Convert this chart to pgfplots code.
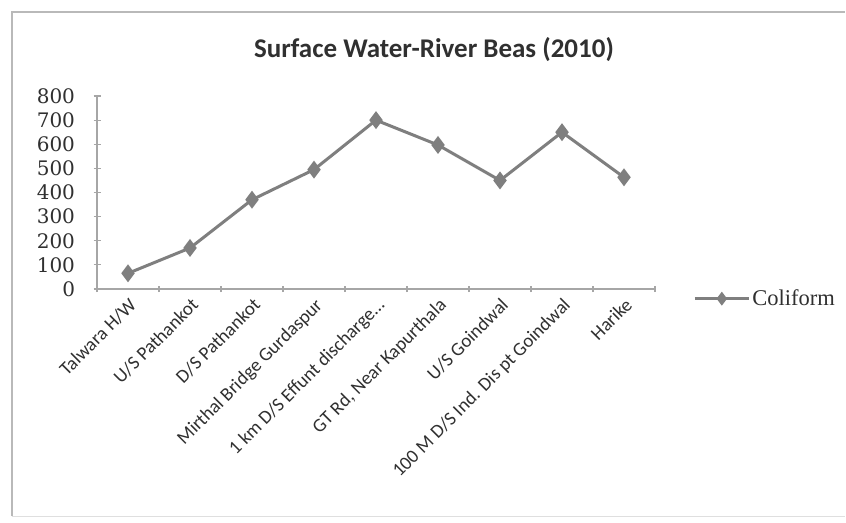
\documentclass[border=0pt]{standalone}
\usepackage{fontspec}
\setmainfont{Liberation Serif}
\newfontfamily\calibri{Carlito}
\newfontfamily\tickfont{DejaVu Serif}
\usepackage{pgfplots}
\pgfplotsset{compat=1.18}
\definecolor{linegray}{HTML}{7F7F7F}
\definecolor{axgray}{HTML}{A6A6A6}
\definecolor{txt}{HTML}{303030}
\begin{document}
\begin{tikzpicture}[x=1bp,y=1bp]
\path[use as bounding box] (0,0) rectangle (846,-523);
\fill[white] (0,0) rectangle (846,-523);
\draw[gray!55, line width=1.5bp] (12,-516) -- (12,-12) -- (845,-12);
\draw[gray!25, line width=1bp] (12,-516) -- (845,-516);
\node[font={\calibri\bfseries\fontsize{27bp}{30bp}\selectfont}, text=txt] at (434,-50) {Surface Water-River Beas (2010)};
\begin{axis}[
  at={(97bp,-289bp)}, anchor=south west,
  scale only axis, width=558bp, height=193bp,
  xmin=-0.5, xmax=8.5, ymin=0, ymax=800,
  ytick={0,100,200,300,400,500,600,700,800},
  xtick={0,1,2,3,4,5,6,7,8},
  xticklabels={Talwara H/W, U/S Pathankot, D/S Pathankot, Mirthal Bridge Gurdaspur, {1 km D/S Effunt discharge\ldots}, {GT Rd, Near Kapurthala}, U/S Goindwal, {100 M D/S Ind. Dis pt Goindwal}, Harike},
  minor xtick={-0.5,0.5,1.5,2.5,3.5,4.5,5.5,6.5,7.5,8.5},
  major x tick style={draw=none},
  minor tick length=6bp,
  major tick length=7bp,
  tick align=outside,
  tick style={axgray, line width=1.2bp},
  axis x line=bottom, axis y line=left,
  axis line style={-, axgray, line width=1.5bp},
  /pgf/number format/assume math mode=true,
  yticklabel style={font=\tickfont\fontsize{20bp}{22bp}\selectfont, text=txt, xshift=-15bp},
  xticklabel style={font=\calibri\fontsize{19bp}{21bp}\selectfont, text=txt, rotate=45, anchor=north east, inner sep=3bp},
  legend style={at={(1.063,-0.05)}, anchor=west, draw=none, fill=none, font=\fontsize{22.5bp}{24bp}\selectfont, text=txt},
  legend image code/.code={
    \draw[#1, mark=none] (0bp,0bp) -- (54bp,0bp);
    \draw[#1, only marks, mark size=4.5bp] plot coordinates {(27bp,0bp)};
  },
  legend cell align=left,
  clip=false,
]
\addplot[color=linegray, line width=3bp, mark=diamond*, mark size=6.5bp, mark options={fill=linegray}]
  coordinates {(0,65) (1,170) (2,370) (3,495) (4,700) (5,597) (6,450) (7,650) (8,463)};
\addlegendentry{Coliform}
\end{axis}
\end{tikzpicture}
\end{document}
